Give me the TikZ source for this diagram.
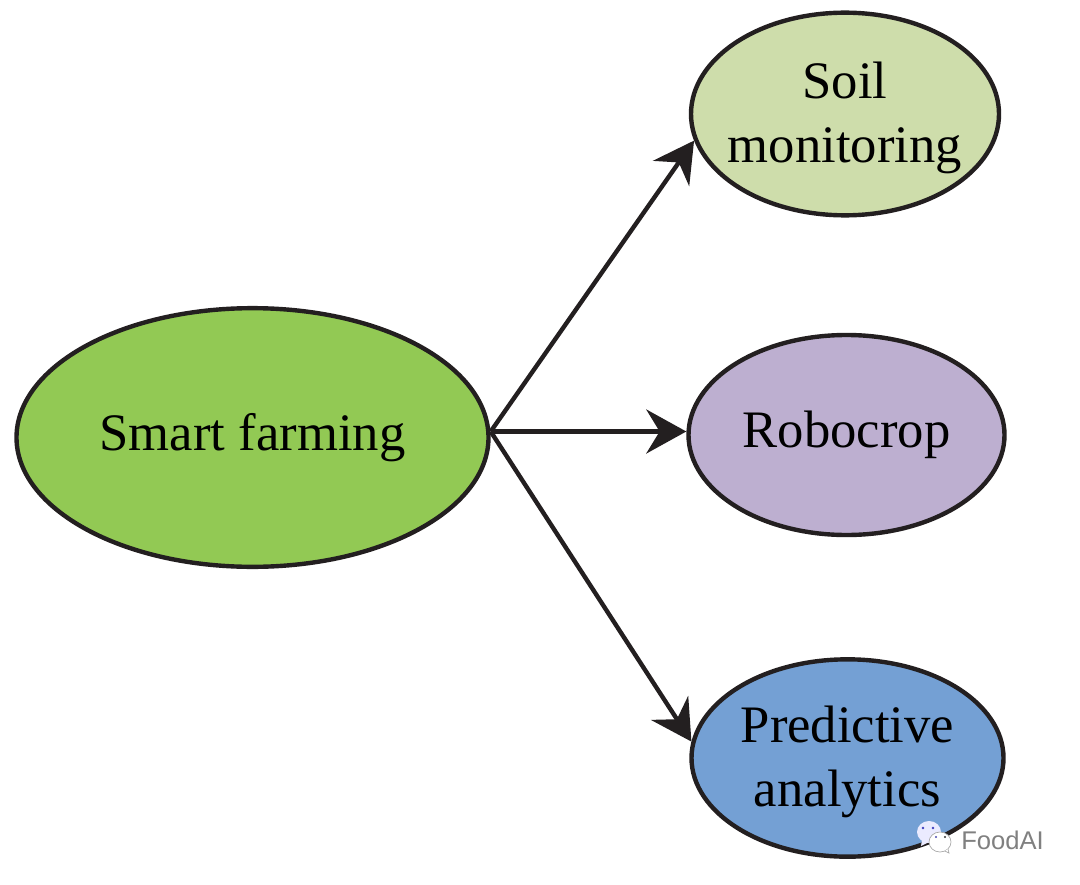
\documentclass[tikz,border=0pt]{standalone}
\usepackage{fontspec}
\setmainfont{Liberation Serif}
\newfontfamily\wmfont{Liberation Sans}
\usetikzlibrary{shapes.geometric,arrows.meta}
\definecolor{inkc}{HTML}{231F20}
\definecolor{smartc}{HTML}{92C954}
\definecolor{soilc}{HTML}{CEDDAB}
\definecolor{roboc}{HTML}{BDAFD0}
\definecolor{predc}{HTML}{74A0D4}
\newcommand{\topline}{\rule{0pt}{33.5pt}}
\tikzset{
  x=0.75pt,y=-0.75pt,
  topic/.style={ellipse,draw=inkc,line width=3.3pt,inner ysep=0pt,inner xsep=-12pt,align=center,text=black,
    font=\fontsize{39.5pt}{48pt}\selectfont},
  link/.style={draw=inkc,line width=3.3pt,-{Stealth[length=30pt,width=33pt,inset=10pt,fill=inkc]}},
}
\begin{document}
\begin{tikzpicture}
\useasboundingbox (0,0) rectangle (1080,884);
\node[topic,fill=smartc,minimum width=354pt,minimum height=194pt] (smart) at (252.5,437.5) {Smart farming};
\node[topic,fill=soilc,minimum width=231pt,minimum height=152pt] (soil) at (845,114) {\topline Soil\\monitoring};
\node[topic,fill=roboc,minimum width=237pt,minimum height=150pt] (robo) at (846.5,435) {Robocrop};
\node[topic,fill=predc,minimum width=234pt,minimum height=148pt] (pred) at (847.5,758) {\topline Predictive\\analytics};
\coordinate (hub) at ([yshift=4.5pt]smart.east);
\draw[link] (hub) -- (soil.190);
\draw[link] (hub) -- (hub -| robo.west);
\draw[link] (hub) -- (pred.174.5);
% watermark
\fill[white!92!blue] (929,832) ellipse (12 and 11);
\fill[white!92!blue] (922,840) -- (921,846) -- (929,842) -- cycle;
\fill[blue!50!gray] (923,828) circle (1.3);
\fill[blue!50!gray] (933,828) circle (1.3);
\draw[gray!70,fill=white,line width=0.5pt] (940,842) ellipse (11 and 10);
\draw[gray!70,fill=white,line width=0.5pt] (945,851) -- (949,853) -- (948,849);
\fill[blue!40!gray] (936,837) circle (1.2);
\fill[black!80] (945,837) circle (1.2);
\node[text=black!50,font=\wmfont\fontsize{19.2pt}{20pt}\selectfont,inner sep=0pt,anchor=west] (wm) at (961,840) {FoodAI};
\end{tikzpicture}
\end{document}
